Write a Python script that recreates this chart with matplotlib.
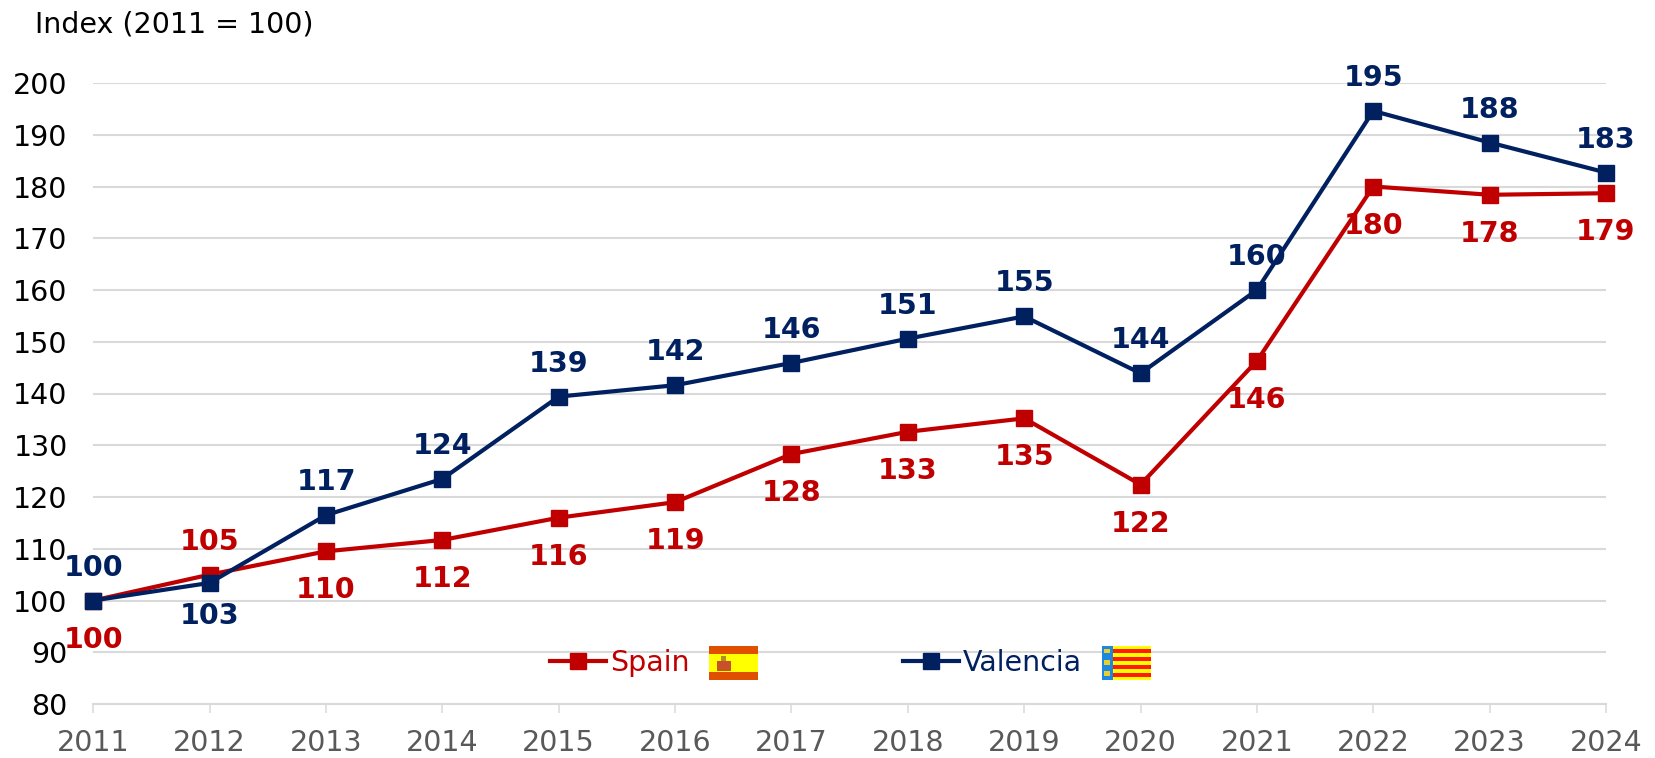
import matplotlib
matplotlib.use("Agg")
import matplotlib.pyplot as plt
import matplotlib.patches as mpatches

W, H = 1655, 758
years = list(range(2011, 2025))
spain = [100, 105, 109.5, 111.7, 116, 119, 128.3, 132.6, 135.2, 122.4, 146.3, 180, 178.4, 178.7]
valencia = [100, 103.4, 116.5, 123.5, 139.4, 141.6, 145.9, 150.6, 154.9, 143.9, 160, 194.6, 188.5, 182.7]
spain_lbl = ["100", "105", "110", "112", "116", "119", "128", "133", "135", "122", "146", "180", "178", "179"]
valencia_lbl = ["100", "103", "117", "124", "139", "142", "146", "151", "155", "144", "160", "195", "188", "183"]
yticks = list(range(80, 201, 10))

RED = "#C00000"
NAVY = "#002060"
GRID = "#D9D9D9"
FS = 20.5
PX = 72 / 100  # pixels -> points at dpi 100

plt.rcParams["font.family"] = ["DejaVu Sans"]


def px_axes(fig, x0, y0, x1, y1):
    """axes from pixel box, y measured from the top like the reference"""
    return fig.add_axes([x0 / W, 1 - y1 / H, (x1 - x0) / W, (y1 - y0) / H])


fig = plt.figure(figsize=(W / 100, H / 100), dpi=100)
ax = px_axes(fig, 93.3, 83, 1606, 704)
ax.set_xlim(2011, 2024)
ax.set_ylim(80, 200)

ax.set_yticks(yticks)
ax.set_xticks(years)
ax.grid(axis="y", color=GRID, lw=1.5, zorder=1)
ax.set_axisbelow(True)
for s in ["top", "right", "left"]:
    ax.spines[s].set_visible(False)
ax.spines["bottom"].set_color(GRID)
ax.spines["bottom"].set_linewidth(1.5)
ax.tick_params(axis="y", length=0, pad=27 * PX - 1, labelsize=FS, labelcolor="black")
ax.tick_params(axis="x", length=9 * PX, width=1.1, color=GRID, pad=11.5,
               labelsize=FS, labelcolor="#595959")

l_es, = ax.plot(years, spain, color=RED, lw=3.0, marker="s", ms=11.5, clip_on=False,
                zorder=3, label="Spain")
l_va, = ax.plot(years, valencia, color=NAVY, lw=3.0, marker="s", ms=11.5, clip_on=False,
                zorder=4, label="Valencia")

# labels: Spain below and Valencia above, except 2012 where they swap
for i, y in enumerate(years):
    es_off = 33 if i == 1 else -39
    va_off = -33 if i == 1 else 33
    ax.annotate(spain_lbl[i], (y, spain[i]), xytext=(0, es_off * PX), textcoords="offset points",
                ha="center", va="center", color=RED, fontsize=FS, fontweight="bold", zorder=5)
    ax.annotate(valencia_lbl[i], (y, valencia[i]), xytext=(0, va_off * PX), textcoords="offset points",
                ha="center", va="center", color=NAVY, fontsize=FS, fontweight="bold", zorder=5)

fig.text(35 / W, 1 - 24 / H, "Index (2011 = 100)", fontsize=FS, va="center", ha="left")

leg = ax.legend(handles=[l_es, l_va], ncol=2, frameon=False, loc="center left",
                bbox_to_anchor=((550 - 93.3) / (1606 - 93.3), (704 - 663) / (704 - 83)),
                fontsize=FS, labelcolor="linecolor",
                handlelength=1.95, handletextpad=0.16,
                columnspacing=7.5, borderpad=0, borderaxespad=0)
leg.set_zorder(6)

# flags
fa = px_axes(fig, 709, 646, 758, 680)
fa.set_xlim(0, 1)
fa.set_ylim(0, 1)
fa.axis("off")
fa.add_patch(mpatches.Rectangle((0, 0), 1, 1, color="#E04E00", lw=0))
fa.add_patch(mpatches.Rectangle((0, 0.23), 1, 0.54, color="#FFFF00", lw=0))
fa.add_patch(mpatches.Rectangle((0.16, 0.26), 0.28, 0.30, color="#C8502A", lw=0))
fa.add_patch(mpatches.Rectangle((0.25, 0.56), 0.10, 0.16, color="#B09020", lw=0))

fb = px_axes(fig, 1102, 646, 1151, 680)
fb.set_xlim(0, 1)
fb.set_ylim(0, 1)
fb.axis("off")
fb.add_patch(mpatches.Rectangle((0, 0), 1, 1, color="#FFFF00", lw=0))
for b in [0.08, 0.32, 0.56, 0.80]:
    fb.add_patch(mpatches.Rectangle((0.22, b), 0.78, 0.12, color="#FF1A00", lw=0))
fb.add_patch(mpatches.Rectangle((0, 0), 0.22, 1, color="#1E88E0", lw=0))
for b in [0.12, 0.45, 0.78]:
    fb.add_patch(mpatches.Rectangle((0.05, b), 0.12, 0.14, color="#E8D030", lw=0))

fig.savefig("out.png", dpi=100)
